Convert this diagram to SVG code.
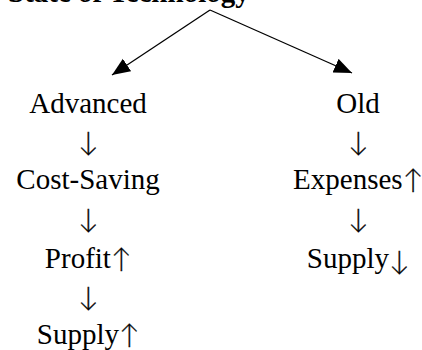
<svg xmlns="http://www.w3.org/2000/svg" width="422" height="350" viewBox="0 0 422 350">
<style>
text{font-family:"Liberation Serif","Times New Roman",serif;font-size:29px;fill:#000;text-anchor:middle}
.title{font-weight:bold;text-anchor:start}
.ar{font-family:Lato,"DejaVu Sans",sans-serif;font-size:27px;font-weight:300;fill:#000;stroke:#000;stroke-width:0.35}
.conn{stroke:#000;stroke-width:1.3;fill:none}
</style>
<defs>
<marker id="ah" markerUnits="userSpaceOnUse" markerWidth="19" markerHeight="16" refX="18" refY="7.5" orient="auto" viewBox="0 0 19 16">
<path d="M0,0 L18,7.5 L0,15 z" fill="#000"/>
</marker>
</defs>
<rect width="422" height="350" fill="#fff"/>
<g id="title"><text class="title" x="8" y="1.5">State of Technology</text></g>
<g id="connectors">
<line class="conn" x1="210" y1="10" x2="112" y2="75" marker-end="url(#ah)"/>
<line class="conn" x1="210" y1="10" x2="352" y2="73" marker-end="url(#ah)"/>
</g>
<g id="advanced"><text x="88" y="112.5">Advanced</text></g>
<g id="arrow-l1"><text class="ar" x="88" y="151">↓</text></g>
<g id="cost-saving"><text x="88" y="189">Cost-Saving</text></g>
<g id="arrow-l2"><text class="ar" x="88" y="228">↓</text></g>
<g id="profit"><text x="88" y="267.5">Profit<tspan class="ar">↑</tspan></text></g>
<g id="arrow-l3"><text class="ar" x="88" y="306">↓</text></g>
<g id="supply-up"><text x="88" y="343.5">Supply<tspan class="ar">↑</tspan></text></g>
<g id="old"><text x="358" y="112.5">Old</text></g>
<g id="arrow-r1"><text class="ar" x="358" y="151">↓</text></g>
<g id="expenses"><text x="358" y="189">Expenses<tspan class="ar">↑</tspan></text></g>
<g id="arrow-r2"><text class="ar" x="358" y="228">↓</text></g>
<g id="supply-down"><text x="358" y="267.5">Supply<tspan class="ar" dy="2">↓</tspan></text></g>
</svg>
